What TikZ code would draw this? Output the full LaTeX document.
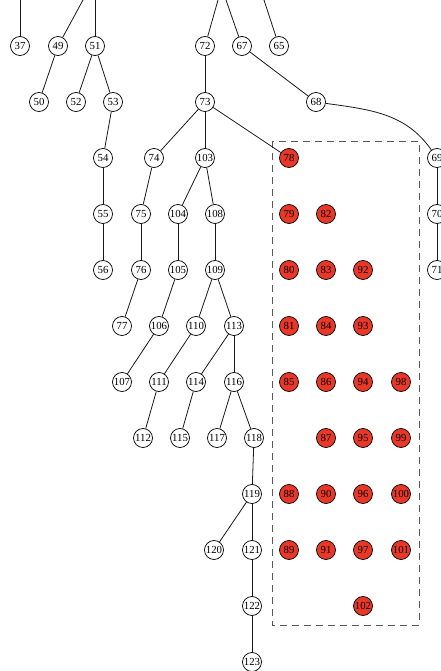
\documentclass[tikz,border=0pt]{standalone}
\usepackage{fontspec}
\setmainfont{Liberation Serif}
\usepackage{xcolor}
\usepackage{tikz}
\usetikzlibrary{positioning}
\definecolor{hitred}{RGB}{234,56,40}

\begin{document}
\begin{tikzpicture}[
  x=1pt, y=-1pt,
  vtx/.style={circle, draw=black, line width=0.75pt, fill=white, inner sep=0pt,
    minimum size=19pt, font=\fontsize{10.8}{11}\selectfont},
  hit/.style={vtx, fill=hitred},
  edge/.style={line width=0.8pt, draw=black!90},
  box/.style={draw=black!65, line width=0.8pt, dash pattern=on 7pt off 5pt}
]
\useasboundingbox (0,0) rectangle (441,671);
\clip (0,0) rectangle (441,671);

% cluster frame
\draw[box] (272,141) rectangle (419,625);

% open ends at the top border
\coordinate (t37) at (20,0);
\coordinate (t49) at (83,0);
\coordinate (t51) at (95,0);
\coordinate (t72) at (218,0);
\coordinate (t67) at (226,0);
\coordinate (t65) at (264,0);

% plain vertices
\foreach \lab/\x/\y in {37/20/46, 49/58/46, 51/95/46, 72/205/46, 67/242/46, 65/279/46,
    50/39/102, 52/76/102, 53/113/102, 73/205/102, 68/316/102,
    54/103/158, 74/154/158, 103/205/158, 69/437/158,
    55/103/214, 75/141/214, 104/178/214, 108/215/214, 70/437/214,
    56/103/270, 76/141/270, 105/178/270, 109/215/270, 71/437/270,
    77/122/326, 106/159/326, 110/196/326, 113/234/326,
    107/122/382, 111/159/382, 114/196/382, 116/234/382,
    112/143/438, 115/180/438, 117/217/438, 118/254/438,
    119/252/494, 120/214/550, 121/252/550, 122/252/606, 123/252/662}
  \node[vtx] (n\lab) at (\x,\y) {\lab};

% marked vertices
\foreach \lab/\x/\y in {78/289/158,
    79/289/214, 82/326/214,
    80/289/270, 83/326/270, 92/363/270,
    81/289/326, 84/326/326, 93/363/326,
    85/289/382, 86/326/382, 94/363/382, 98/401/382,
    87/326/438, 95/363/438, 99/401/438,
    88/289/494, 90/326/494, 96/363/494, 100/401/494,
    89/289/550, 91/326/550, 97/363/550, 101/401/550,
    102/363/606}
  \node[hit] (n\lab) at (\x,\y) {\lab};

% edges
\foreach \a in {37,49,51,72,67,65}
  \draw[edge] (t\a) -- (n\a);
\foreach \a/\b in {49/50, 51/52, 51/53, 53/54, 54/55, 55/56, 72/73, 67/68,
    73/74, 73/103, 73/78, 74/75, 75/76, 76/77, 103/104, 103/108, 104/105,
    105/106, 106/107, 108/109, 109/110, 109/113, 110/111, 111/112, 113/114,
    113/116, 114/115, 116/117, 116/118, 118/119, 119/120, 119/121, 121/122,
    122/123, 69/70, 70/71}
  \draw[edge] (n\a) -- (n\b);
\draw[edge] (n68) to[out=-8, in=125] (n69);
\end{tikzpicture}
\end{document}
